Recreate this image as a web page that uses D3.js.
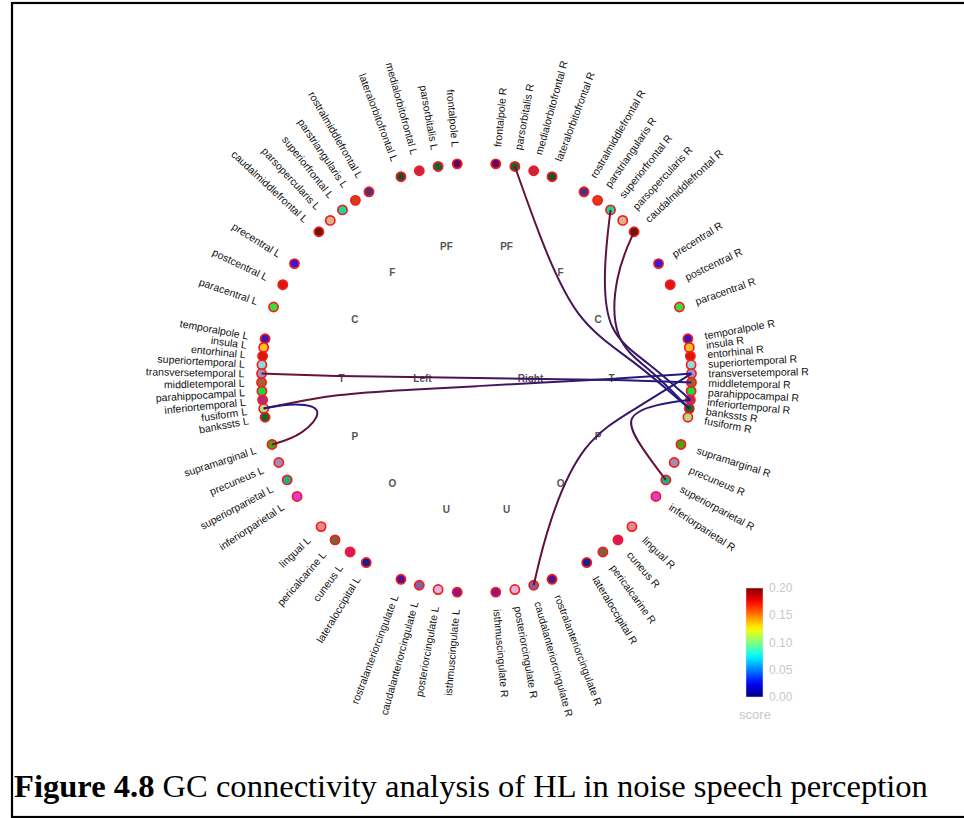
<!DOCTYPE html>
<html>
<head>
<meta charset="utf-8">
<script src="https://cdn.jsdelivr.net/npm/d3@7"></script>
<style>
  html, body { margin: 0; padding: 0; background: #fff; }
  svg { display: block; }
</style>
</head>
<body>
<svg id="chart" width="964" height="818"></svg>
<script>
// GC connectivity circle plot (hierarchical edge bundling)

// Hierarchy: hemispheres -> lobes -> Desikan regions
const hemispheres = ["Left", "Right"];
const hemiSuffix = [" L", " R"];
const lobes = ["PF", "F", "C", "T", "P", "O", "U"];

const pfRegions = ["frontalpole", "parsorbitalis", "medialorbitofrontal", "lateralorbitofrontal"];
const fRegions = ["rostralmiddlefrontal", "parstriangularis", "superiorfrontal", "parsopercularis", "caudalmiddlefrontal"];
const cRegions = ["precentral", "postcentral", "paracentral"];
const tRegionsL = ["temporalpole", "insula", "entorhinal", "superiortemporal", "transversetemporal",
  "middletemporal", "parahippocampal", "inferiortemporal", "fusiform", "bankssts"];
const tRegionsR = ["temporalpole", "insula", "entorhinal", "superiortemporal", "transversetemporal",
  "middletemporal", "parahippocampal", "inferiortemporal", "bankssts", "fusiform"];
const pRegions = ["supramarginal", "precuneus", "superiorparietal", "inferiorparietal"];
const oRegionsL = ["lingual", "pericalcarine", "cuneus", "lateraloccipital"];
const oRegionsR = ["lingual", "cuneus", "pericalcarine", "lateraloccipital"];
const uRegions = ["rostralanteriorcingulate", "caudalanteriorcingulate", "posteriorcingulate", "isthmuscingulate"];

const regionsLeft = [pfRegions, fRegions, cRegions, tRegionsL, pRegions, oRegionsL, uRegions];
const regionsRight = [pfRegions, fRegions, cRegions, tRegionsR, pRegions, oRegionsR, uRegions];

// FreeSurfer colour table for the regions
const regionNames = ["bankssts", "caudalanteriorcingulate", "caudalmiddlefrontal", "cuneus", "entorhinal",
  "fusiform", "inferiorparietal", "inferiortemporal", "isthmuscingulate", "lateraloccipital",
  "lateralorbitofrontal", "lingual", "medialorbitofrontal", "middletemporal", "parahippocampal",
  "paracentral", "parsopercularis", "parsorbitalis", "parstriangularis", "pericalcarine",
  "postcentral", "posteriorcingulate", "precentral", "precuneus", "rostralanteriorcingulate",
  "rostralmiddlefrontal", "superiorfrontal", "superiorparietal", "superiortemporal", "supramarginal",
  "frontalpole", "temporalpole", "transversetemporal", "insula"];
const regionColors = ["#196428", "#7d64a0", "#641900", "#dc1464", "#dc140a",
  "#b4dc8c", "#dc3cdc", "#b42878", "#8c148c", "#141e8c",
  "#234b32", "#e18c8c", "#c8234b", "#a06432", "#14dc3c",
  "#3cdc3c", "#dcb48c", "#146432", "#dc3c14", "#78643c",
  "#dc1414", "#dcb4dc", "#3c14dc", "#a08cb4", "#50148c",
  "#4b327d", "#14dca0", "#14b48c", "#8cdcdc", "#50a014",
  "#640064", "#4614aa", "#9696c8", "#ffc020"];

// Directed GC connections (source -> target)
const edgeSources = ["transversetemporal L", "fusiform L", "supramarginal L", "parsorbitalis R",
  "superiorfrontal R", "caudalmiddlefrontal R", "superiorparietal R", "caudalanteriorcingulate R"];
const edgeTargets = ["middletemporal R", "transversetemporal R", "fusiform L", "bankssts R",
  "inferiortemporal R", "bankssts R", "inferiortemporal R", "transversetemporal R"];

// Colour bar
const scoreDomain = [0, 0.2];
const scoreTicks = [0, 0.05, 0.1, 0.15, 0.2];

const caption = ["Figure 4.8", " GC connectivity analysis of HL in noise speech perception"];

// Layout
const cx = 476.5, cy = 378;
const radius = d3.scaleLinear().domain([0, 1, 2, 3]).range([0, 54, 135, 215]);
const lobeAngle = d3.scaleBand().domain(lobes).range([0, 180]);
const regionColor = d3.scaleOrdinal().domain(regionNames).range(regionColors);
const jet = d3.scaleLinear()
  .domain([0, 0.125, 0.375, 0.625, 0.875, 1])
  .range(["#00007f", "#0000ff", "#00ffff", "#ffff00", "#ff0000", "#7f0000"]);

const svg = d3.select("#chart");
const defs = svg.append("defs");

// Outer frame
svg.append("rect")
  .attr("x", 12).attr("y", 3)
  .attr("width", 960).attr("height", 814)
  .attr("fill", "#fff")
  .attr("stroke", "#000")
  .attr("stroke-width", 2.2);

// Build hierarchy
const root = d3.hierarchy({
  name: "",
  children: hemispheres.map((h, hi) => ({
    name: h,
    side: hi,
    children: lobes.map((l, li) => ({
      name: l,
      children: (hi === 0 ? regionsLeft : regionsRight)[li].map(r => ({ name: r + hemiSuffix[hi], region: r }))
    }))
  }))
});

root.each(d => {
  const hemi = d.ancestors().find(a => a.depth === 1);
  d.side = hemi ? (hemi.data.side === 0 ? -1 : 1) : 0;
  if (d.depth === 0) d.angle = 0;
  else if (d.depth === 1) d.angle = 90;
  else if (d.depth === 2) d.angle = lobeAngle(d.data.name) + lobeAngle.bandwidth() / 2;
  else {
    const lobe = d.parent.data.name;
    const pt = d3.scalePoint()
      .domain(d.parent.children.map(c => c.data.name))
      .range([lobeAngle(lobe), lobeAngle(lobe) + lobeAngle.bandwidth()])
      .padding(1);
    d.angle = pt(d.data.name);
  }
  const a = d.angle * Math.PI / 180;
  const r = radius(d.depth);
  d.px = cx + d.side * r * Math.sin(a);
  d.py = cy - r * Math.cos(a);
});

const leaves = root.leaves();
const leafByName = new Map(leaves.map(d => [d.data.name, d]));

// Lobe and hemisphere labels
svg.append("g")
  .selectAll("text")
  .data(root.descendants().filter(d => d.depth === 1 || d.depth === 2))
  .join("text")
  .attr("x", d => d.px)
  .attr("y", d => d.py)
  .attr("text-anchor", "middle")
  .attr("dominant-baseline", "central")
  .attr("font-family", "Liberation Sans, Arial, sans-serif")
  .attr("font-size", 10)
  .attr("font-weight", "bold")
  .attr("fill", "#555")
  .text(d => d.data.name);

// Region nodes
svg.append("g")
  .selectAll("circle")
  .data(leaves)
  .join("circle")
  .attr("cx", d => d.px)
  .attr("cy", d => d.py)
  .attr("r", 4.6)
  .attr("fill", d => regionColor(d.data.region))
  .attr("stroke", "#f41c1c")
  .attr("stroke-width", 1.7);

// Region labels, radial
const labelR = 232;
svg.append("g")
  .selectAll("text")
  .data(leaves)
  .join("text")
  .attr("transform", d => {
    const a = d.angle * Math.PI / 180;
    const x = cx + d.side * labelR * Math.sin(a);
    const y = cy - labelR * Math.cos(a);
    const rot = d.side < 0
      ? Math.atan2(Math.cos(a), Math.sin(a)) * 180 / Math.PI
      : Math.atan2(-Math.cos(a), Math.sin(a)) * 180 / Math.PI;
    return `translate(${x},${y}) rotate(${rot})`;
  })
  .attr("text-anchor", d => d.side < 0 ? "end" : "start")
  .attr("dominant-baseline", "central")
  .attr("font-family", "Liberation Sans, Arial, sans-serif")
  .attr("font-size", 10.5)
  .attr("fill", "#111")
  .text(d => d.data.name);

// Edges, bundled through the hierarchy
const bundle = d3.line()
  .x(d => d.px)
  .y(d => d.py)
  .curve(d3.curveBundle.beta(0.38));

const edges = edgeSources.map((s, i) => ({ source: leafByName.get(s), target: leafByName.get(edgeTargets[i]) }));

edges.forEach((e, i) => {
  const g = defs.append("linearGradient")
    .attr("id", "edge" + i)
    .attr("gradientUnits", "userSpaceOnUse")
    .attr("x1", e.source.px).attr("y1", e.source.py)
    .attr("x2", e.target.px).attr("y2", e.target.py);
  g.append("stop").attr("offset", 0).attr("stop-color", "#701030");
  g.append("stop").attr("offset", 1).attr("stop-color", "#1e1a82");
});

svg.append("g")
  .selectAll("path")
  .data(edges)
  .join("path")
  .attr("d", d => bundle(d.source.path(d.target)))
  .attr("fill", "none")
  .attr("stroke", (d, i) => `url(#edge${i})`)
  .attr("stroke-width", 2);

// Colour bar
const barX = 746, barW = 17;
const barY = d3.scaleLinear().domain(scoreDomain).range([697, 588]);
const barGrad = defs.append("linearGradient")
  .attr("id", "jet")
  .attr("x1", 0).attr("y1", 1).attr("x2", 0).attr("y2", 0);
barGrad.selectAll("stop")
  .data(d3.range(0, 1.0001, 0.05))
  .join("stop")
  .attr("offset", d => d)
  .attr("stop-color", d => jet(d));

svg.append("rect")
  .attr("x", barX)
  .attr("y", barY(scoreDomain[1]))
  .attr("width", barW)
  .attr("height", barY(scoreDomain[0]) - barY(scoreDomain[1]))
  .attr("fill", "url(#jet)")
  .attr("stroke", "#ddd")
  .attr("stroke-width", 0.5);

svg.append("g")
  .selectAll("text")
  .data(scoreTicks)
  .join("text")
  .attr("x", barX + barW + 6)
  .attr("y", d => barY(d))
  .attr("dominant-baseline", "central")
  .attr("font-family", "Liberation Sans, Arial, sans-serif")
  .attr("font-size", 12)
  .attr("fill", "#c8c8c8")
  .text(d => d3.format(".2f")(d));

svg.append("text")
  .attr("x", 755)
  .attr("y", 714)
  .attr("text-anchor", "middle")
  .attr("dominant-baseline", "central")
  .attr("font-family", "Liberation Sans, Arial, sans-serif")
  .attr("font-size", 13)
  .attr("fill", "#c8c8c8")
  .text("score");

// Caption
const cap = svg.append("text")
  .attr("x", 14)
  .attr("y", 797)
  .attr("font-family", "Liberation Serif, Times New Roman, serif")
  .attr("font-size", 32)
  .attr("fill", "#000");
cap.append("tspan").attr("font-weight", "bold").text(caption[0]);
cap.append("tspan").text(caption[1]);
const capLen = cap.node().getComputedTextLength();
cap.attr("font-size", 32 * 914 / capLen);
</script>
</body>
</html>
